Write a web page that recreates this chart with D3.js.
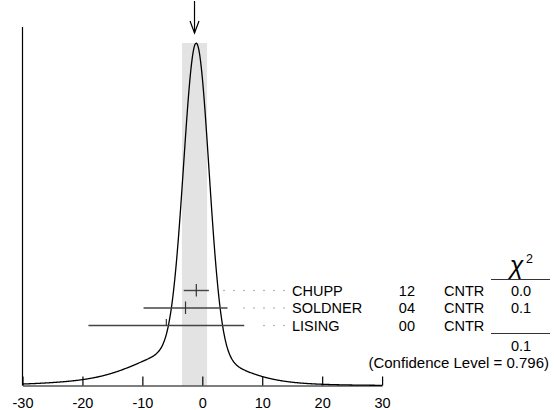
<!DOCTYPE html>
<html>
<head>
<meta charset="utf-8">
<script src="https://cdn.jsdelivr.net/npm/d3@7"></script>
<style>
  html, body { margin: 0; padding: 0; background: #fff; }
  svg { display: block; }
  text { font-family: "Liberation Sans", Arial, Helvetica, sans-serif; fill: #000; }
</style>
</head>
<body>
<svg id="chart" width="554" height="410"></svg>
<script>
// ---- data ----
const names = ["CHUPP", "SOLDNER", "LISING"];
const years = ["12", "04", "00"];
const techniques = ["CNTR", "CNTR", "CNTR"];
const values = [-1.0, -2.8, -6.0];
const errors = [2.1, 7.0, 13.0];
const chi2Values = ["0.0", "0.1", ""];
const meanValue = -1.3;
const meanError = 2.1;
const chi2Total = "0.1";
const confidenceLevel = "0.796";
const xTicks = [-30, -20, -10, 0, 10, 20, 30];

// ---- layout ----
const svg = d3.select("#chart");
const baseY = 385.5;
const topY = 43;
const x = d3.scaleLinear().domain([-30, 30]).range([22.5, 382.1]);

// ideogram: sum of gaussians, each with area proportional to 1/sigma
const xs = d3.range(-30, 30.0001, 0.1);
const ideo = xs.map(v => {
  let s = 0;
  values.forEach((m, i) => {
    const e = errors[i];
    s += (1 / (e * e)) * Math.exp(-((v - m) * (v - m)) / (2 * e * e));
  });
  return { v, s };
});
const y = d3.scaleLinear().domain([0, d3.max(ideo, d => d.s)]).range([baseY, topY]);

// band for weighted average
svg.append("rect")
  .attr("x", x(meanValue - meanError))
  .attr("y", topY)
  .attr("width", x(meanValue + meanError) - x(meanValue - meanError))
  .attr("height", baseY - topY)
  .attr("fill", "#e3e3e3");

// y axis line
svg.append("line")
  .attr("x1", x(-30)).attr("x2", x(-30))
  .attr("y1", 27).attr("y2", baseY)
  .attr("stroke", "#000").attr("stroke-width", 1.2);

// x axis
const axis = d3.axisBottom(x)
  .tickValues(xTicks)
  .tickFormat(d3.format("d"))
  .tickSizeInner(-9)
  .tickSizeOuter(0)
  .tickPadding(12);
const gAxis = svg.append("g").attr("transform", `translate(0,${baseY})`).call(axis);
gAxis.select(".domain").attr("stroke", "#000").attr("stroke-width", 1.2);
gAxis.selectAll(".tick line").attr("stroke", "#000").attr("stroke-width", 1.2);
gAxis.selectAll(".tick text")
  .attr("font-family", "'Liberation Sans', Arial, sans-serif")
  .attr("font-size", 14.5)
  .attr("fill", "#000")
  .text(d => d);

// ideogram curve
svg.append("path")
  .datum(ideo)
  .attr("fill", "none")
  .attr("stroke", "#000")
  .attr("stroke-width", 1.3)
  .attr("d", d3.line().x(d => x(d.v)).y(d => y(d.s)).curve(d3.curveBasis));

// arrow at weighted average
const ax = x(meanValue);
svg.append("line").attr("x1", ax).attr("x2", ax).attr("y1", 1).attr("y2", 33)
  .attr("stroke", "#000").attr("stroke-width", 1.2);
svg.append("path")
  .attr("d", `M${ax - 4.5},21 L${ax},33 L${ax + 4.5},21`)
  .attr("fill", "none").attr("stroke", "#000").attr("stroke-width", 1.2);

// measurement rows
const rowY = [290.5, 308, 325.5];
const tickUp = [6.5, 6.5, 6.5];
const tickDown = [6, 6, 0];
const dotEnd = 284;

values.forEach((m, i) => {
  const yy = rowY[i];
  svg.append("line")
    .attr("x1", x(m - errors[i])).attr("x2", x(m + errors[i]))
    .attr("y1", yy).attr("y2", yy)
    .attr("stroke", "#444").attr("stroke-width", 1.4);
  svg.append("line")
    .attr("x1", x(m)).attr("x2", x(m))
    .attr("y1", yy - tickUp[i]).attr("y2", yy + tickDown[i])
    .attr("stroke", "#333").attr("stroke-width", 1.2);
  // dotted leader
  const startX = x(m + errors[i]) + 12;
  const dots = [];
  for (let dx = dotEnd; dx > startX; dx -= 10) dots.push(dx);
  svg.selectAll(null).data(dots).enter().append("rect")
    .attr("x", d => d - 0.6).attr("y", yy - 0.6)
    .attr("width", 1.2).attr("height", 1.2)
    .attr("fill", "#888");
  const ty = yy + 5;
  svg.append("text").attr("x", 292).attr("y", ty).attr("font-size", 14.5).text(names[i]);
  svg.append("text").attr("x", 415).attr("y", ty).attr("font-size", 14.5)
    .attr("text-anchor", "end").text(years[i]);
  svg.append("text").attr("x", 444).attr("y", ty).attr("font-size", 14.5).text(techniques[i]);
  svg.append("text").attr("x", 521).attr("y", ty).attr("font-size", 14.5)
    .attr("text-anchor", "middle").text(chi2Values[i]);
});

// chi-square header and rules
svg.append("text").attr("x", 516.5).attr("y", 274).attr("text-anchor", "middle")
  .attr("font-family", "'Liberation Serif', 'Times New Roman', serif")
  .attr("font-style", "italic")
  .attr("font-size", 25).text("χ");
svg.append("text").attr("x", 526).attr("y", 263).attr("font-size", 12.5).text("2");

svg.append("line").attr("x1", 491).attr("x2", 550).attr("y1", 279.5).attr("y2", 279.5)
  .attr("stroke", "#333").attr("stroke-width", 1.2);
svg.append("line").attr("x1", 491).attr("x2", 550).attr("y1", 333.5).attr("y2", 333.5)
  .attr("stroke", "#333").attr("stroke-width", 1.2);

svg.append("text").attr("x", 521).attr("y", 351).attr("font-size", 14.5)
  .attr("text-anchor", "middle").text(chi2Total);
svg.append("text").attr("x", 549).attr("y", 368).attr("font-size", 15)
  .attr("text-anchor", "end").text(`(Confidence Level = ${confidenceLevel})`);
</script>
</body>
</html>
